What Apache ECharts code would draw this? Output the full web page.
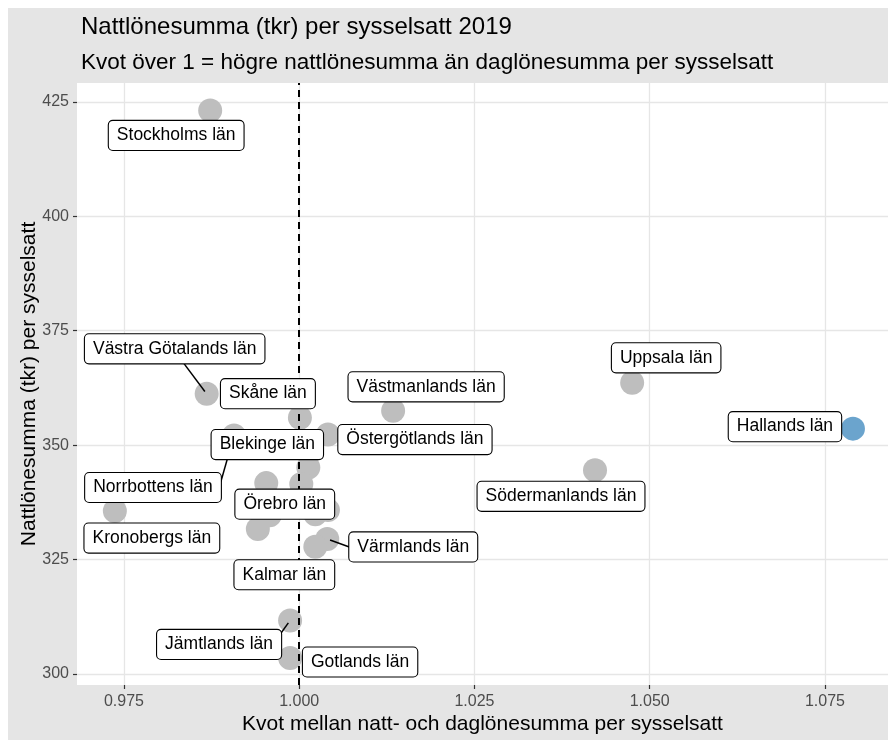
<!DOCTYPE html>
<html>
<head>
<meta charset="utf-8">
<script src="https://cdn.jsdelivr.net/npm/echarts@6/dist/echarts.min.js"></script>
<style>
html,body{margin:0;padding:0;background:#fff;}
#chart{width:888px;height:740px;}
</style>
</head>
<body>
<div id="chart"></div>
<script>
// ---- data ----
const lan = [
  "Stockholms län", "Uppsala län", "Hallands län", "Södermanlands län", "Västmanlands län",
  "Östergötlands län", "Västra Götalands län", "Skåne län", "Norrbottens län", "Blekinge län",
  "Dalarnas län", "Kronobergs län", "Gävleborgs län", "Örebro län", "Västerbottens län",
  "Jönköpings län", "Västernorrlands län", "Värmlands län", "Kalmar län", "Jämtlands län", "Gotlands län"
];
const kvot = [
  0.9873, 1.0475, 1.0790, 1.0422, 1.0134,
  1.0041, 0.9868, 1.0001, 0.9907, 1.0013,
  1.0003, 0.9737, 0.9953, 0.9958, 0.9941,
  1.0023, 1.0041, 1.0040, 1.0023, 0.9987, 0.9987
];
const nattlon = [
  423.1, 363.6, 353.6, 344.5, 357.5,
  352.3, 361.2, 356.0, 352.1, 345.1,
  341.5, 335.6, 341.7, 334.7, 331.7,
  334.9, 335.8, 329.5, 327.8, 311.7, 303.5
];
const labelled = [
  "Stockholms län", "Uppsala län", "Hallands län", "Södermanlands län", "Västmanlands län",
  "Östergötlands län", "Västra Götalands län", "Skåne län", "Norrbottens län", "Blekinge län",
  "Kronobergs län", "Örebro län", "Värmlands län", "Kalmar län", "Jämtlands län", "Gotlands län"
];
const highlighted = "Hallands län";
const xTicks = [0.975, 1.000, 1.025, 1.050, 1.075];
const yTicks = [300, 325, 350, 375, 400, 425];
const refLine = 1;

// ---- label placement (pixel offsets from point, like ggrepel; optional segment anchor on box) ----
const labelShift = {
  "Stockholms län": [-34, 25, null],
  "Uppsala län": [34, -25, null],
  "Hallands län": [-68, -2, null],
  "Södermanlands län": [-34, 26, null],
  "Västmanlands län": [33, -24, null],
  "Östergötlands län": [87, 5, null],
  "Västra Götalands län": [-32, -45, [0.1, 1]],
  "Skåne län": [-32, -24, null],
  "Norrbottens län": [-81, 52, [1, -0.4]],
  "Blekinge län": [-41, -23, null],
  "Kronobergs län": [37, 27, null],
  "Örebro län": [15, -11, null],
  "Värmlands län": [86, 8, [-1, 0]],
  "Kalmar län": [-31, 28, null],
  "Jämtlands län": [-71, 24, [1, -0.8]],
  "Gotlands län": [70, 4, null]
};

const FONT = "'Liberation Sans', Arial, sans-serif";
const LABEL_FS = 17.5, PAD = [6, 8, 5, 8];
const measureCtx = document.createElement('canvas').getContext('2d');
measureCtx.font = LABEL_FS + 'px ' + FONT;

const greyPts = [], bluePts = [], labelPts = [];
lan.forEach((n, i) => {
  const p = {name: n, value: [kvot[i], nattlon[i]]};
  if (n === highlighted) bluePts.push(p); else greyPts.push(p);
  if (labelled.includes(n)) labelPts.push({name: n, value: [kvot[i], nattlon[i]]});
});

function renderLabel(params, api) {
  const name = labelPts[params.dataIndex].name;
  const s = labelShift[name];
  const pt = api.coord([api.value(0), api.value(1)]);
  const cx = pt[0] + s[0], cy = pt[1] + s[1];
  const children = [];
  if (s[2]) {
    const hw = (measureCtx.measureText(name).width + PAD[1] + PAD[3]) / 2;
    const hh = (LABEL_FS + PAD[0] + PAD[2]) / 2;
    const ax = cx + s[2][0] * hw, ay = cy + s[2][1] * hh;
    const dx = ax - pt[0], dy = ay - pt[1], d = Math.sqrt(dx * dx + dy * dy);
    const sx = pt[0] + dx / d * 3, sy = pt[1] + dy / d * 3;
    children.push({type: 'line', shape: {x1: sx, y1: sy, x2: ax, y2: ay},
      style: {stroke: '#000', lineWidth: 1.5}});
  }
  children.push({
    type: 'text', x: cx, y: cy,
    style: {
      text: name, fill: '#000', fontFamily: FONT, fontSize: LABEL_FS,
      align: 'center', verticalAlign: 'middle',
      backgroundColor: '#fff', borderColor: '#000', borderWidth: 1.1, borderRadius: 4,
      padding: PAD
    }
  });
  return {type: 'group', children: children};
}

const chart = echarts.init(document.getElementById('chart'), null, {renderer: 'canvas'});
const option = {
  backgroundColor: '#e5e5e5',
  animation: false,
  textStyle: {fontFamily: FONT},
  graphic: [
    {type: 'rect', shape: {x: 0, y: 0, width: 888, height: 8}, style: {fill: '#fff'}, silent: true},
    {type: 'rect', shape: {x: 0, y: 0, width: 8, height: 740}, style: {fill: '#fff'}, silent: true}
  ],
  title: [
    {text: 'Nattlönesumma (tkr) per sysselsatt 2019', left: 76, top: 10,
     textStyle: {fontFamily: FONT, fontSize: 24, fontWeight: 'normal', color: '#000'}},
    {text: 'Kvot över 1 = högre nattlönesumma än daglönesumma per sysselsatt', left: 76, top: 46,
     textStyle: {fontFamily: FONT, fontSize: 22.5, fontWeight: 'normal', color: '#000'}}
  ],
  grid: {left: 77, right: 0, top: 83, bottom: 51, show: true, backgroundColor: '#fff', borderWidth: 0},
  xAxis: {
    type: 'value', min: 0.9683, max: 1.0840,
    name: 'Kvot mellan natt- och daglönesumma per sysselsatt',
    nameLocation: 'middle', nameGap: 29, nameMoveOverlap: false,
    nameTextStyle: {fontFamily: FONT, fontSize: 21, color: '#000', verticalAlign: 'top'},
    axisLine: {show: false},
    axisTick: {show: true, length: 4, customValues: xTicks, lineStyle: {color: '#333', width: 1.2}},
    axisLabel: {customValues: xTicks, formatter: v => v.toFixed(3), color: '#4d4d4d', fontSize: 16, margin: 9, fontFamily: FONT},
    splitLine: {show: true, lineStyle: {color: '#e6e6e6', width: 1.3}}
  },
  yAxis: {
    type: 'value', min: 297.6, max: 429.1,
    name: 'Nattlönesumma (tkr) per sysselsatt',
    nameLocation: 'middle', nameGap: 37, nameMoveOverlap: false,
    nameTextStyle: {fontFamily: FONT, fontSize: 21, color: '#000'},
    axisLine: {show: false},
    axisTick: {show: true, length: 4, customValues: yTicks, lineStyle: {color: '#333', width: 1.2}},
    axisLabel: {customValues: yTicks, color: '#4d4d4d', fontSize: 16, margin: 8, fontFamily: FONT},
    splitLine: {show: true, lineStyle: {color: '#e6e6e6', width: 1.3}}
  },
  series: [
    {
      type: 'scatter', z: 2, symbolSize: 24, data: greyPts,
      itemStyle: {color: '#bebebe', opacity: 1}, label: {show: false}
    },
    {
      type: 'scatter', z: 2, symbolSize: 24, data: bluePts,
      itemStyle: {color: '#6ba4cd', opacity: 1}, label: {show: false}
    },
    {
      type: 'line', z: 3, data: [],
      markLine: {
        z: 3, silent: true, symbol: ['none', 'none'], label: {show: false},
        lineStyle: {color: '#000', type: [7, 5], width: 2},
        data: [{xAxis: refLine}]
      }
    },
    {
      type: 'custom', z: 10, clip: false, silent: true,
      encode: {x: 0, y: 1},
      data: labelPts.map(p => p.value),
      renderItem: renderLabel
    }
  ]
};
chart.setOption(option);
</script>
</body>
</html>
